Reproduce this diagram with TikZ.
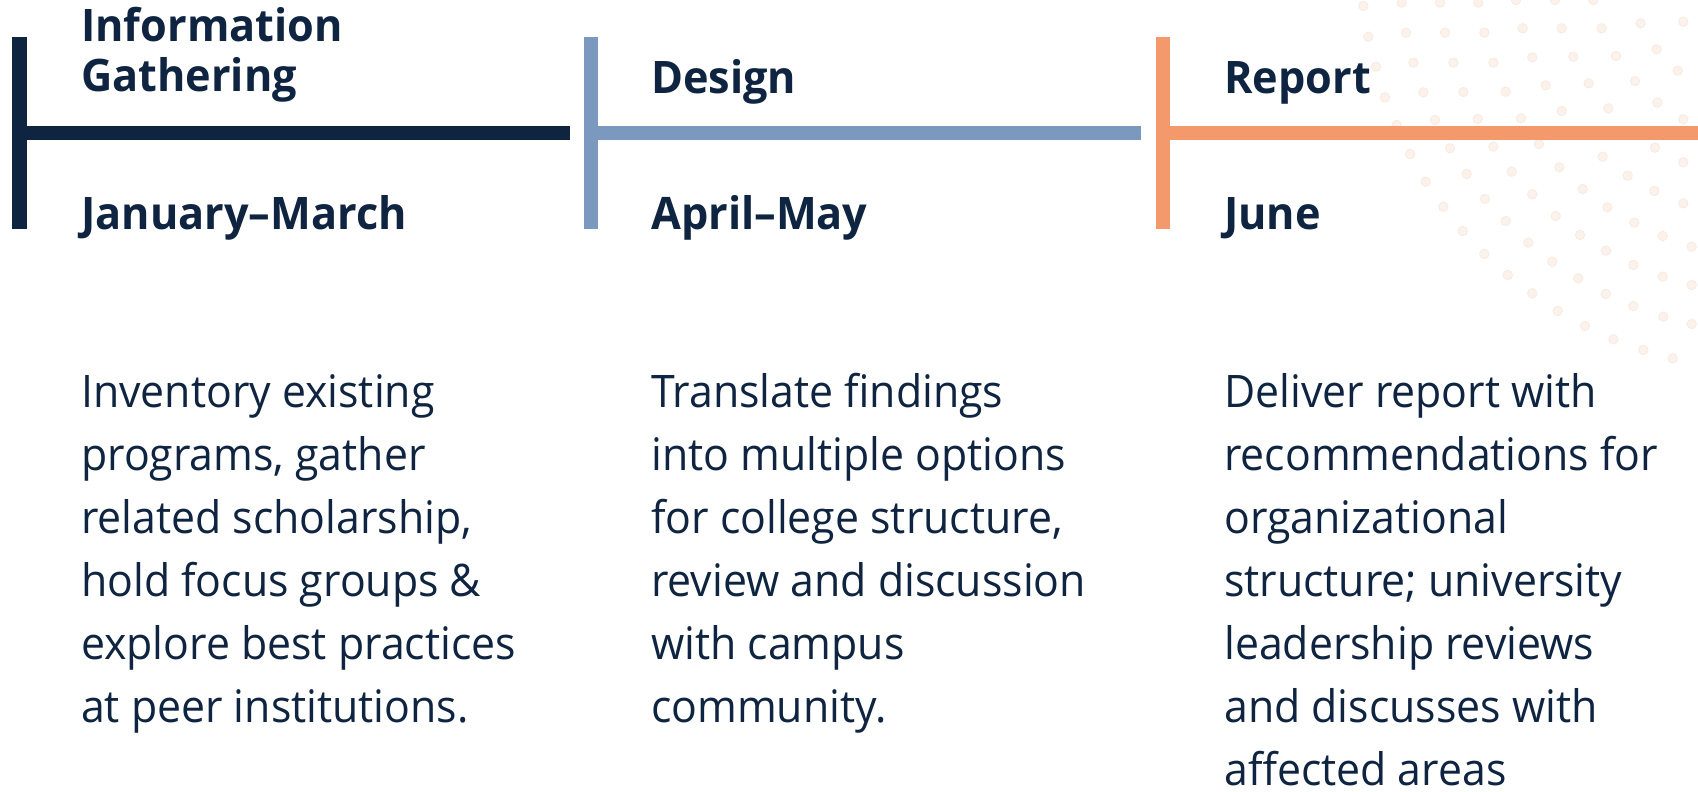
\documentclass[tikz,border=0pt]{standalone}
\usepackage{fontspec}
\setmainfont{Open Sans}[FakeStretch=0.955, BoldFeatures={FakeStretch=0.965}]
\definecolor{navy}{RGB}{15,36,65}
\definecolor{slate}{RGB}{123,152,191}
\definecolor{peach}{RGB}{244,153,108}
\definecolor{dotfill}{RGB}{252,242,236}
\definecolor{dotline}{RGB}{249,234,225}
\tikzset{
  head/.style={anchor=base west, inner sep=0pt, text=navy, font=\fontsize{44.8}{50.5}\selectfont\bfseries},
  body/.style={anchor=base west, inner sep=0pt, text=navy, font=\fontsize{44.8}{63}\selectfont},
  dotmark/.style={fill=dotfill, draw=dotline, line width=0.8pt},
}
\begin{document}
\begin{tikzpicture}[x=1pt,y=-1pt]
\fill[white] (0,0) rectangle (1698,792);
\useasboundingbox (0,0) rectangle (1698,792);
% dots
\foreach \a/\b in {190/18,305/8,420/8,535/8,648/0,765/0,880/0,
 205/110,318/98,435/98,553/98,668/85,785/85,905/85,1022/70,1150/65,
 228/200,340/188,460/188,580/188,697/172,820/170,948/168,1070/148,
 255/292,370/277,490/276,617/275,737/256,866/250,1005/243,1133/212,
 290/375,405/360,533/357,663/355,785/333,925/325,1072/308,1150/358,
 330/462,450/445,580/440,717/432,1065/443,1150/487,
 377/545,500/522,635/515,778/502,908/470,983/527,1150/610,
 430/620,555/597,697/583,848/567,1063/573,
 488/693,617/663,767/648,922/622,1003/668,1088/708,
 553/762,685/728,840/705,918/752,1000/795,1175/740,
 623/825,757/785,835/835,1088/830,1175/855,
 697/880,773/933,917/882,1090/950,1175/972,
 855/978,940/1018,1000/918,1030/1050,1118/1075}
  \path[dotmark] ({1300+\a/3},{\b/3}) circle (4.7);
% timeline bars
\fill[navy] (12,37) rectangle (27,229);
\fill[navy] (27,126) rectangle (570,140);
\fill[slate] (584,37) rectangle (598,229);
\fill[slate] (598,126) rectangle (1141,140);
\fill[peach] (1156,37) rectangle (1170,229);
\fill[peach] (1170,126) rectangle (1698,140);
% headings
\node[head] (h1) at (81,41.5) {\parbox[t]{600pt}{Information\\Gathering}};
\node[head] (h2) at (651,94) {Design};
\node[head] (h3) at (1224,94) {Report};
\node[head] (d1) at (81,229) {January–March};
\node[head] (d2) at (651,229) {April–May};
\node[head] (d3) at (1224,229) {June};
% descriptions
\node[body] (b1) at (81,407) {\parbox[t]{520pt}{Inventory existing\\programs, gather\\related scholarship,\\hold focus groups \&\\explore best practices\\at peer institutions.}};
\node[body] (b2) at (651,407) {\parbox[t]{520pt}{Translate findings\\into multiple options\\for college structure,\\review and discussion\\with campus\\community.}};
\node[body] (b3) at (1224,407) {\parbox[t]{470pt}{Deliver report with\\recommendations for\\organizational\\structure; university\\leadership reviews\\and discusses with\\affected areas}};
\end{tikzpicture}
\end{document}
